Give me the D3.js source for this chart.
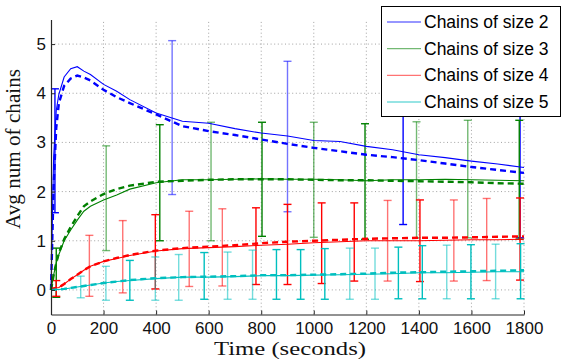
<!DOCTYPE html>
<html>
<head>
<meta charset="utf-8">
<script src="https://d3js.org/d3.v7.min.js"></script>
<style>
  body { margin: 0; background: #fff; }
  svg { display: block; }
</style>
</head>
<body>
<div id="chart"></div>
<script>
// sample times for the curves (seconds)
const times = [0, 10, 20, 30, 50, 75, 100, 125, 150, 200, 250, 300, 400, 500, 600, 700, 800, 900, 1000, 1100, 1200, 1300, 1400, 1500, 1600, 1700, 1800];

// solid = measured, dashed = model
const size2Solid  = [0, 2.7, 3.65, 3.98, 4.33, 4.5, 4.54, 4.45, 4.38, 4.18, 4.04, 3.87, 3.6, 3.43, 3.39, 3.28, 3.19, 3.13, 3.04, 3.02, 2.92, 2.85, 2.75, 2.69, 2.62, 2.56, 2.49];
const size2Dashed = [0, 2.1, 3.3, 3.8, 4.15, 4.3, 4.36, 4.32, 4.26, 4.07, 3.92, 3.8, 3.57, 3.33, 3.23, 3.15, 3.06, 2.97, 2.89, 2.82, 2.75, 2.7, 2.64, 2.57, 2.5, 2.44, 2.38];
const size3Solid  = [0, 0.3, 0.55, 0.72, 1.0, 1.22, 1.42, 1.6, 1.7, 1.83, 1.93, 2.05, 2.18, 2.24, 2.24, 2.25, 2.26, 2.25, 2.25, 2.24, 2.22, 2.24, 2.24, 2.25, 2.24, 2.23, 2.22];
const size3Dashed = [0, 0.3, 0.55, 0.75, 1.03, 1.28, 1.5, 1.7, 1.8, 1.95, 2.05, 2.12, 2.2, 2.22, 2.24, 2.25, 2.25, 2.25, 2.24, 2.23, 2.23, 2.22, 2.21, 2.2, 2.19, 2.17, 2.16];
const size4Solid  = [0.02, 0.03, 0.04, 0.05, 0.12, 0.22, 0.31, 0.4, 0.48, 0.58, 0.64, 0.7, 0.79, 0.84, 0.86, 0.88, 0.91, 0.93, 0.96, 0.98, 1.0, 1.0, 1.0, 1.01, 1.02, 1.02, 1.03];
const size4Dashed = [0.02, 0.03, 0.04, 0.05, 0.12, 0.22, 0.31, 0.4, 0.48, 0.58, 0.65, 0.71, 0.8, 0.85, 0.88, 0.91, 0.95, 0.98, 1.0, 1.02, 1.04, 1.05, 1.06, 1.06, 1.07, 1.08, 1.09];
const size5Solid  = [0, 0, 0.01, 0.01, 0.02, 0.04, 0.06, 0.08, 0.1, 0.14, 0.17, 0.19, 0.23, 0.26, 0.26, 0.27, 0.29, 0.29, 0.3, 0.31, 0.32, 0.33, 0.35, 0.35, 0.36, 0.37, 0.37];
const size5Dashed = [0, 0, 0.01, 0.01, 0.02, 0.04, 0.06, 0.08, 0.1, 0.14, 0.17, 0.2, 0.24, 0.26, 0.27, 0.28, 0.3, 0.3, 0.31, 0.32, 0.33, 0.35, 0.36, 0.37, 0.38, 0.39, 0.4];

// error bars: time, low, high, faded (drawn lighter)
const size2ErrT    = [15, 461, 900, 1340, 1785];
const size2ErrLow  = [1.57, 1.94, 1.59, 1.33, 1.06];
const size2ErrHigh = [4.09, 5.07, 4.65, 4.3, 4.0];
const size2ErrFade = [0, 1, 1, 0, 0];

const size3ErrT    = [20, 210, 414, 609, 803, 1000, 1195, 1391, 1586, 1782];
const size3ErrLow  = [-0.15, 0.8, 1.0, 1.0, 1.09, 1.07, 1.03, 1.06, 1.06, 1.03];
const size3ErrHigh = [0.85, 2.93, 3.36, 3.41, 3.41, 3.41, 3.38, 3.42, 3.45, 3.45];
const size3ErrFade = [0, 1, 0, 1, 0, 1, 0, 1, 1, 0];

const size4ErrT    = [20, 146, 273, 397, 526, 652, 780, 900, 1030, 1154, 1281, 1404, 1533, 1658, 1785];
const size4ErrLow  = [-0.13, -0.13, -0.06, 0.02, 0.07, 0.08, 0.11, 0.11, 0.13, 0.18, 0.18, 0.17, 0.18, 0.19, 0.2];
const size4ErrHigh = [0.19, 1.11, 1.41, 1.53, 1.6, 1.65, 1.67, 1.74, 1.77, 1.77, 1.82, 1.83, 1.83, 1.86, 1.87];
const size4ErrFade = [0, 1, 1, 0, 1, 1, 0, 0, 0, 0, 1, 0, 1, 1, 0];

const size5ErrT    = [113, 209, 300, 397, 486, 583, 672, 767, 858, 950, 1042, 1137, 1233, 1322, 1413, 1506, 1598, 1692, 1787];
const size5ErrLow  = [-0.16, -0.21, -0.21, -0.21, -0.21, -0.19, -0.19, -0.19, -0.19, -0.19, -0.19, -0.19, -0.19, -0.18, -0.18, -0.18, -0.18, -0.18, -0.18];
const size5ErrHigh = [0.28, 0.48, 0.6, 0.67, 0.72, 0.76, 0.77, 0.81, 0.82, 0.82, 0.84, 0.85, 0.85, 0.87, 0.9, 0.91, 0.92, 0.93, 0.94];
const size5ErrFade = [1, 1, 0, 1, 1, 0, 1, 1, 0, 0, 0, 1, 1, 0, 0, 1, 0, 1, 0];

const xTicks = [0, 200, 400, 600, 800, 1000, 1200, 1400, 1600, 1800];
const yTicks = [0, 1, 2, 3, 4, 5];
const legendLabels = ["Chains of size 2", "Chains of size 3", "Chains of size 4", "Chains of size 5"];
const colors = ["#0000ff", "#008000", "#ff0000", "#00bfbf"];

const series = [
  { solid: size2Solid, dashed: size2Dashed, t: size2ErrT, lo: size2ErrLow, hi: size2ErrHigh, fade: size2ErrFade },
  { solid: size3Solid, dashed: size3Dashed, t: size3ErrT, lo: size3ErrLow, hi: size3ErrHigh, fade: size3ErrFade },
  { solid: size4Solid, dashed: size4Dashed, t: size4ErrT, lo: size4ErrLow, hi: size4ErrHigh, fade: size4ErrFade },
  { solid: size5Solid, dashed: size5Dashed, t: size5ErrT, lo: size5ErrLow, hi: size5ErrHigh, fade: size5ErrFade }
];

const width = 563, height = 360;
const svg = d3.select("#chart").append("svg")
  .attr("width", width)
  .attr("height", height);

const x = d3.scaleLinear().domain([0, 1800]).range([51, 524]);
const y = d3.scaleLinear().domain([-0.5, 5.5]).range([314.5, 19.5]);

// grid
const grid = svg.append("g").attr("stroke", "#8a8a8a").attr("stroke-width", 0.8).attr("stroke-dasharray", "1,2.6");
grid.selectAll(".vg").data(xTicks.slice(1)).enter().append("line")
  .attr("x1", d => x(d)).attr("x2", d => x(d))
  .attr("y1", y(-0.5)).attr("y2", y(5.5));
grid.selectAll(".hg").data(yTicks).enter().append("line")
  .attr("x1", x(0)).attr("x2", x(1800))
  .attr("y1", d => y(d)).attr("y2", d => y(d));

// error bars first, then curves on top
const capW = 4;
series.forEach((s, i) => {
  const g = svg.append("g").attr("stroke", colors[i]).attr("stroke-width", 1.4).attr("fill", "none");
  s.t.forEach((t, j) => {
    const bar = g.append("g").attr("stroke-opacity", s.fade[j] ? 0.55 : 1);
    bar.append("line").attr("x1", x(t)).attr("x2", x(t)).attr("y1", y(s.lo[j])).attr("y2", y(s.hi[j]));
    bar.append("line").attr("x1", x(t) - capW).attr("x2", x(t) + capW).attr("y1", y(s.lo[j])).attr("y2", y(s.lo[j]));
    bar.append("line").attr("x1", x(t) - capW).attr("x2", x(t) + capW).attr("y1", y(s.hi[j])).attr("y2", y(s.hi[j]));
  });
});

const line = d3.line().x((d, k) => x(times[k])).y(d => y(d));
series.forEach((s, i) => {
  svg.append("path").datum(s.dashed)
    .attr("d", line)
    .attr("fill", "none")
    .attr("stroke", colors[i])
    .attr("stroke-width", 2.4)
    .attr("stroke-dasharray", "6,4");
  svg.append("path").datum(s.solid)
    .attr("d", line)
    .attr("fill", "none")
    .attr("stroke", colors[i])
    .attr("stroke-width", 1.1);
});

// axes
const xAxis = svg.append("g")
  .attr("transform", `translate(0,${y(-0.5)})`)
  .call(d3.axisBottom(x).tickValues(xTicks).tickFormat(d3.format("d")).tickSizeInner(-4).tickSizeOuter(0).tickPadding(7));
const yAxis = svg.append("g")
  .attr("transform", `translate(${x(0)},0)`)
  .call(d3.axisLeft(y).tickValues(yTicks).tickFormat(d3.format("d")).tickSizeInner(-4).tickSizeOuter(0).tickPadding(5));

[xAxis, yAxis].forEach(a => {
  a.select(".domain").attr("stroke", "#262626").attr("stroke-width", 1.2);
  a.selectAll(".tick line").attr("stroke", "#262626");
  a.selectAll("text")
    .attr("fill", "#111")
    .style("font-family", "'Liberation Sans', Arial, sans-serif")
    .style("font-size", "17px");
});

// axis labels
svg.append("text")
  .attr("x", 290).attr("y", 355)
  .attr("text-anchor", "middle")
  .attr("textLength", 152)
  .attr("lengthAdjust", "spacingAndGlyphs")
  .style("font-family", "'Liberation Serif', 'Times New Roman', serif")
  .style("font-size", "19px")
  .attr("fill", "#111")
  .text("Time (seconds)");

svg.append("text")
  .attr("transform", "translate(20,149) rotate(-90)")
  .attr("text-anchor", "middle")
  .attr("textLength", 160)
  .attr("lengthAdjust", "spacingAndGlyphs")
  .style("font-family", "'Liberation Serif', 'Times New Roman', serif")
  .style("font-size", "20px")
  .attr("fill", "#111")
  .text("Avg num of chains");

// legend
const legend = svg.append("g");
legend.append("rect")
  .attr("x", 381.5).attr("y", 6.5)
  .attr("width", 179).attr("height", 110)
  .attr("fill", "#fff")
  .attr("stroke", "#000")
  .attr("stroke-width", 1);

const rowY = d3.scaleLinear().domain([0, 3]).range([22, 102]);
legendLabels.forEach((lab, i) => {
  legend.append("line")
    .attr("x1", 387).attr("x2", 421)
    .attr("y1", rowY(i)).attr("y2", rowY(i))
    .attr("stroke", colors[i])
    .attr("stroke-opacity", 0.55)
    .attr("stroke-width", 1.3);
  legend.append("text")
    .attr("x", 424).attr("y", rowY(i))
    .attr("dy", "0.35em")
    .style("font-family", "'Liberation Sans', Arial, sans-serif")
    .style("font-size", "17.5px")
    .attr("fill", "#000")
    .text(lab);
});
</script>
</body>
</html>
